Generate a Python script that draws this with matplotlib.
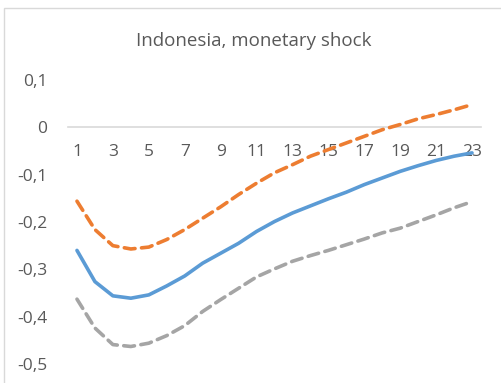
import matplotlib
matplotlib.use('Agg')
import matplotlib.pyplot as plt
from matplotlib.ticker import FuncFormatter, FixedLocator
from matplotlib.patches import Rectangle

# impulse response, periods 1..23
periods = list(range(1, 24))
response = [-0.260, -0.326, -0.356, -0.361, -0.354, -0.335, -0.314, -0.287,
            -0.266, -0.245, -0.220, -0.199, -0.181, -0.166, -0.151, -0.137,
            -0.121, -0.107, -0.093, -0.081, -0.070, -0.061, -0.054]
upper = [-0.156, -0.216, -0.250, -0.257, -0.253, -0.237, -0.216, -0.192,
         -0.168, -0.142, -0.118, -0.096, -0.079, -0.061, -0.047, -0.033,
         -0.019, -0.005, 0.006, 0.018, 0.027, 0.037, 0.048]
lower = [-0.363, -0.424, -0.459, -0.463, -0.456, -0.440, -0.419, -0.389,
         -0.364, -0.340, -0.316, -0.299, -0.283, -0.271, -0.260, -0.248,
         -0.236, -0.223, -0.213, -0.199, -0.185, -0.170, -0.157]
y_ticks = [0.1, 0, -0.1, -0.2, -0.3, -0.4, -0.5]

plt.rcParams['font.family'] = ['Open Sans', 'DejaVu Sans']
txt = '#595959'

fig = plt.figure(figsize=(5.02, 3.83), dpi=100)
fig.patches.append(Rectangle((4 / 502, -0.1), 1.2, 1 - 8 / 383 + 0.1,
                             transform=fig.transFigure, fill=False,
                             edgecolor='#d9d9d9', linewidth=1))
ax = fig.add_axes([68 / 502, 1 - 364 / 383, (481 - 68) / 502, (364 - 80) / 383])

ax.plot(periods, response, color='#5B9BD5', linewidth=2.6, solid_capstyle='round')
ax.plot(periods, upper, color='#ED7D31', linewidth=2.6, dashes=(3, 1.8),
        dash_capstyle='round')
ax.plot(periods, lower, color='#A5A5A5', linewidth=2.6, dashes=(3, 1.8),
        dash_capstyle='round')

ax.set_xlim(0.5, 23.5)
ax.set_ylim(-0.5, 0.1)
for s in ['top', 'right', 'left']:
    ax.spines[s].set_visible(False)
ax.spines['bottom'].set_position(('data', 0))
ax.spines['bottom'].set_color('#d9d9d9')
ax.spines['bottom'].set_linewidth(1.2)
ax.spines['bottom'].set_zorder(0)

ax.xaxis.set_major_locator(FixedLocator(periods[::2]))
ax.yaxis.set_major_locator(FixedLocator(y_ticks))
ax.yaxis.set_major_formatter(FuncFormatter(
    lambda v, p: ('%g' % round(v, 1)).replace('.', ',')))
ax.tick_params(axis='x', length=0, pad=12, labelsize=12.5, labelcolor=txt)
ax.tick_params(axis='y', length=0, pad=15, labelsize=12.5, labelcolor=txt)

fig.text(254 / 502, 1 - 41 / 383, 'Indonesia, monetary shock', ha='center',
         va='center', fontsize=13.5, color=txt)

fig.savefig('out.png', dpi=100)
